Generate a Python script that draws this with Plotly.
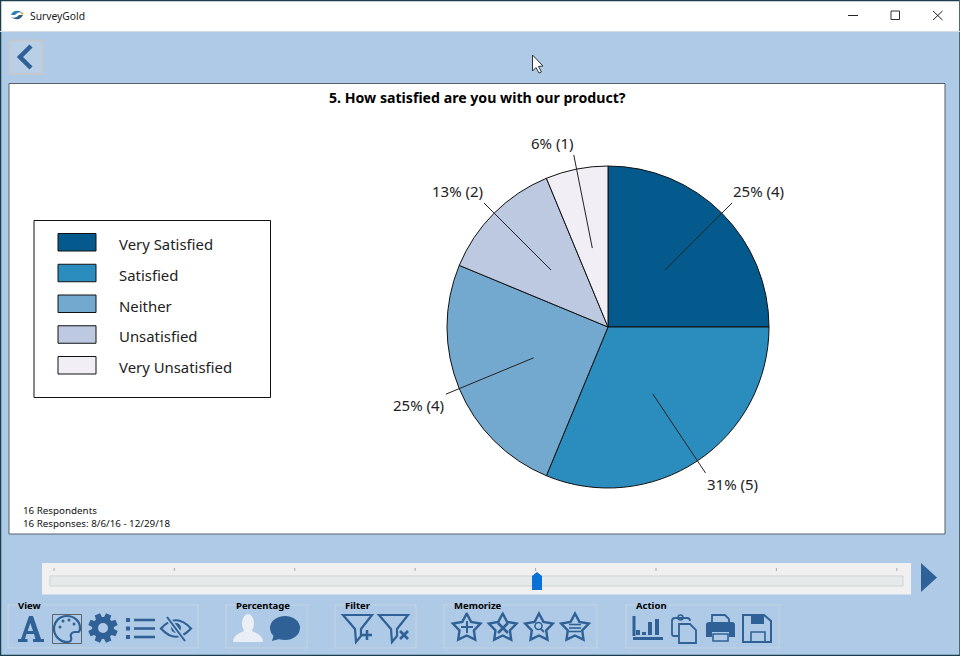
import math
import plotly.graph_objects as go

categories = ["Very Satisfied", "Satisfied", "Neither", "Unsatisfied", "Very Unsatisfied"]
responses = [4, 5, 4, 2, 1]
percent_labels = ["25% (4)", "31% (5)", "25% (4)", "13% (2)", "6% (1)"]
colors = ["#045a8d", "#2b8cbe", "#74a9cf", "#bdc9e1", "#f1eef6"]

title = "5. How satisfied are you with our product?"
footer = ["16 Respondents", "16 Responses: 8/6/16 - 12/29/18"]
groups = ["View", "Percentage", "Filter", "Memorize", "Action"]

BG = "#aecae6"
ICON = "#2f6196"
FONT = "Noto Sans"

shapes = []
annots = []


def rect(x0, y0, x1, y1, fill=None, line=None, w=1, layer="below"):
    shapes.append(dict(type="rect", xref="x", yref="y", x0=x0, y0=y0, x1=x1, y1=y1,
                       fillcolor=fill or "rgba(0,0,0,0)", layer=layer,
                       line=dict(color=line or "rgba(0,0,0,0)", width=w if line else 0)))


def ell(x0, y0, x1, y1, fill=None, line=None, w=1):
    shapes.append(dict(type="circle", xref="x", yref="y", x0=x0, y0=y0, x1=x1, y1=y1,
                       fillcolor=fill or "rgba(0,0,0,0)", layer="below",
                       line=dict(color=line or "rgba(0,0,0,0)", width=w if line else 0)))


def path(d, fill=None, line=None, w=1, layer="below"):
    shapes.append(dict(type="path", xref="x", yref="y", path=d, layer=layer,
                       fillcolor=fill or "rgba(0,0,0,0)",
                       line=dict(color=line or "rgba(0,0,0,0)", width=w if line else 0)))


def seg(x0, y0, x1, y1, color=ICON, w=1, layer="below"):
    shapes.append(dict(type="line", xref="x", yref="y", x0=x0, y0=y0, x1=x1, y1=y1,
                       layer=layer, line=dict(color=color, width=w)))


def text(x, y, s, size=12, color="#111111", anchor="left", bold=False, bg=None, family=FONT):
    # annotations sit about a pixel low and right of the asked position
    annots.append(dict(xref="x", yref="y", x=x - 1 if anchor == "left" else x, y=y - 1,
                       text=f"<b>{s}</b>" if bold else s, align=anchor if anchor == "left" else "center",
                       showarrow=False, xanchor=anchor, yanchor="middle", borderpad=0,
                       font=dict(family=family, size=size, color=color), bgcolor=bg))


def star(cx, cy, R=14.5):
    pts = []
    for i in range(10):
        r = R if i % 2 == 0 else R * 0.52
        a = math.radians(-90 + 36 * i)
        pts.append(f"{cx + r * math.cos(a):.1f},{cy + r * math.sin(a):.1f}")
    path("M" + " L".join(pts) + " Z", line=ICON, w=2.4)


def funnel(x):
    path(f"M{x},615 L{x + 29},615 L{x + 18},629 L{x + 18},636 L{x + 13},642 L{x + 12},629 Z",
         line=ICON, w=2.2)


# window frame
rect(0, 0, 960, 656, fill=BG)
rect(0, 0, 960, 31.5, fill="#ffffff")
seg(0, 0.5, 960, 0.5, "#1c3f4f", 1.5)
seg(0.5, 0, 0.5, 656, "#1c3f4f", 1.5)
seg(959.5, 0, 959.5, 656, "#4a6a7a", 1)
seg(0, 655.5, 960, 655.5, "#1c3f4f", 1.5)
seg(0, 31.5, 960, 31.5, "#d5dde4", 1)

# title bar
path("M11,15 Q13,10 19,11 Q22,12 23,13 Q18,11 15,15 Z", fill="#2f7fb8")
path("M23,15 Q21,20 15,19 Q12,18 11,17 Q16,19 19,15 Z", fill="#2a5d8c")
path("M20,12 Q23,12 24,14 L22,15 Z", fill="#d8b24a")
text(30, 16.5, "SurveyGold", size=10.3, color="#1a1a1a")
seg(848, 15.5, 858, 15.5, "#222222", 1)
rect(891, 11, 899.5, 19.5, line="#333333", w=1)
seg(933, 11, 942.5, 20, "#222222", 1)
seg(933, 20, 942.5, 11, "#222222", 1)

# back button
rect(9.5, 40.5, 43, 74, fill="#b9cfe5", line="#c4c8cc", w=2)
path("M31,46 L20,57 L31,68", line=ICON, w=4.5)

# mouse pointer
path("M532.5,55 L532.5,71 L536,67.5 L539,73 L541.5,72 L538.5,66.5 L543,66 Z",
     fill="#ffffff", line="#333333", w=1)

# chart panel
rect(9, 83.5, 945, 534, fill="#ffffff", line="#55606a", w=1)
text(477.5, 98, title, size=14.15, color="#000000", anchor="center", bold=True)
text(23, 518, "<br>".join(footer), size=9.8)

# legend
rect(34, 220.5, 270.5, 397.5, fill="#ffffff", line="#111111", w=1)
for i, (cat, col) in enumerate(zip(categories, colors)):
    top = 233.5 + i * 30.75
    rect(58, top, 96, top + 17.5, fill=col, line="#111111", w=1)
    text(119, top + 11.5, cat, size=14.9, color="#222222")

# slider
rect(42, 563, 911, 594.5, fill="#f0f0f0")
rect(50, 576, 903, 586, fill="#e6e9e9", line="#cfd3d3", w=1)
for k in range(8):
    seg(54 + k * 120.4, 568, 54 + k * 120.4, 571, "#aaaaaa", 1)
path("M532,590 L532,576 L537,572 L542,576 L542,590 Z", fill="#0a72d6")
path("M921,563 L937,577.5 L921,592 Z", fill=ICON)

# toolbar group boxes
boxes = [(8, 198), (226, 307), (335, 416), (444, 597), (626, 779)]
label_x = [18, 236, 345, 454, 636]
for (x0, x1), lx, g in zip(boxes, label_x, groups):
    rect(x0, 605, x1, 648, line="#c4d3df", w=1.2)
    text(lx, 606, g, size=9.5, color="#000000", bold=True, bg=BG)

# view icons
path("M18,642 L18,639 L21,639 L29,616 L33,616 L41,639 L44,639 L44,642 L33,642 L33,639 L35.5,639 "
     "L34,634 L26.5,634 L25,639 L27.5,639 L27.5,642 Z M27.7,631 L33,631 L30.3,623 Z", fill=ICON)
rect(52.5, 614.5, 81.5, 643.5, line="#5a6570", w=1)
path("M67,616 C59,616 54,622 54,629 C54,636 60,642 67,642 C71,642 72,640 71,637 "
     "C70,634 72,632 75,632 L78,632 C80,632 80,630 80,628 C80,621 74,616 67,616 Z", line=ICON, w=2.2)
for dx, dy in [(60, 627), (63, 621), (69, 620), (74, 624)]:
    ell(dx - 1.5, dy - 1.5, dx + 1.5, dy + 1.5, fill=ICON)

gear = []
for i in range(8):
    a = math.radians(22.5 + 45 * i)
    for da, r in [(-17, 11), (-11, 15), (11, 15), (17, 11)]:
        t = a + math.radians(da)
        gear.append(f"{103 + r * math.cos(t):.1f},{628 + r * math.sin(t):.1f}")
path("M" + " L".join(gear) + " Z", fill=ICON)
ell(98, 623, 108, 633, fill=BG)

for y in (620, 628.5, 637):
    rect(126, y - 2, 130, y + 2, fill=ICON)
    seg(134, y, 155, y, ICON, 2.6)

path("M161,628.5 Q176,612 191,628.5 Q176,645 161,628.5 Z", line=ICON, w=2.2)
ell(171, 623, 181, 633, fill=ICON)
seg(167, 617, 185, 641, BG, 5)
seg(167, 617, 185, 641, ICON, 2)

# percentage icons
ell(242, 614, 254, 633, fill="#e9eff4")
path("M233,642 C233,635 240,633 244,631 L252,631 C256,633 263,635 263,642 Z", fill="#e9eff4")
ell(270, 616, 300, 640, fill=ICON)
path("M274,634 L272,641 L283,638 Z", fill=ICON)

# filter icons
funnel(343)
seg(362, 635, 372, 635, ICON, 2.6)
seg(367, 630, 367, 640, ICON, 2.6)
funnel(379)
seg(400, 631, 408, 639, ICON, 2.6)
seg(408, 631, 400, 639, ICON, 2.6)

# memorize icons
star(466.7, 628)
seg(461, 627, 473, 627, ICON, 2)
seg(467, 621, 467, 633, ICON, 2)
star(502.7, 628)
seg(498, 623, 508, 633, ICON, 2.6)
seg(508, 623, 498, 633, ICON, 2.6)
star(539, 628)
ell(535, 622.5, 542, 629.5, line=ICON, w=1.6)
seg(541, 629, 544, 632, ICON, 1.8)
star(575, 628)
for y in (624.5, 628, 631.5):
    seg(569, y, 581, y, ICON, 1.6)

# action icons
seg(633, 638.5, 663, 638.5, ICON, 3)
for bx, by in [(636, 630), (642, 632), (648, 622), (655, 619)]:
    rect(bx, by, bx + 4, 635, fill=ICON)
seg(634, 616, 634, 636, ICON, 3)
path("M678,636 L674,636 Q672,636 672,634 L672,621 Q672,618 675,618 L687,618 Q690,618 690,621", line=ICON, w=1.8)
path("M679,624 L690,624 L696,630 L696,643 L679,643 Z", line=ICON, fill=BG, w=1.8)
ell(678, 615, 683, 620, line=ICON, w=1.5)
path("M706,625 Q706,622 709,622 L732,622 Q735,622 735,625 L735,637 L729,637 L729,632 L712,632 L712,637 L706,637 Z", fill=ICON)
path("M712,622 L712,615 L725,615 L729,619 L729,622", line=ICON, w=1.8)
rect(713, 634, 728, 641, line=ICON, w=1.6)
path("M743,615 L764,615 L771,621 L771,642 L743,642 Z", line=ICON, w=2)
rect(751, 615, 764, 624, fill=ICON)
rect(751, 632, 765, 642, line=ICON, w=1.6)

# leader lines run from half the radius out past the rim along each slice's middle angle
pie_cx, pie_cy, pie_r = 608, 327, 161
label_at = [(758, 192), (732, 485), (418, 406), (457, 192), (552, 143.5)]
total = sum(responses)
start = 0
for v, lab, at in zip(responses, percent_labels, label_at):
    mid = math.radians((start + v / 2) * 360 / total)
    dx, dy = math.sin(mid), -math.cos(mid)
    seg(pie_cx + pie_r * 0.5 * dx, pie_cy + pie_r * 0.5 * dy,
        pie_cx + pie_r * 1.09 * dx, pie_cy + pie_r * 1.09 * dy, "#222222", 1, layer="above")
    text(at[0], at[1], lab, size=15, color="#222222", anchor="center")
    start += v

fig = go.Figure()
fig.add_trace(go.Pie(
    labels=categories, values=responses, sort=False, direction="clockwise", rotation=0,
    marker=dict(colors=colors, line=dict(color="#111111", width=1)),
    textinfo="none", hoverinfo="skip", showlegend=False,
    domain=dict(x=[(pie_cx - pie_r) / 960, (pie_cx + pie_r) / 960],
                y=[1 - (pie_cy + pie_r) / 656, 1 - (pie_cy - pie_r) / 656]),
))
# empty trace so the pixel-sized axes exist for the window furniture
fig.add_trace(go.Scatter(x=[0, 960], y=[0, 656], mode="none", hoverinfo="skip", showlegend=False))

fig.update_layout(
    width=960, height=656, margin=dict(l=0, r=0, t=0, b=0), autosize=False,
    paper_bgcolor=BG, plot_bgcolor="rgba(0,0,0,0)", showlegend=False,
    xaxis=dict(range=[0, 960], visible=False, fixedrange=True, domain=[0, 1]),
    yaxis=dict(range=[656, 0], visible=False, fixedrange=True, domain=[0, 1]),
    shapes=shapes, annotations=annots,
)

fig.write_html("out.html", config=dict(displayModeBar=False),
               post_script="document.body.style.margin='0';document.body.style.overflow='hidden';")
